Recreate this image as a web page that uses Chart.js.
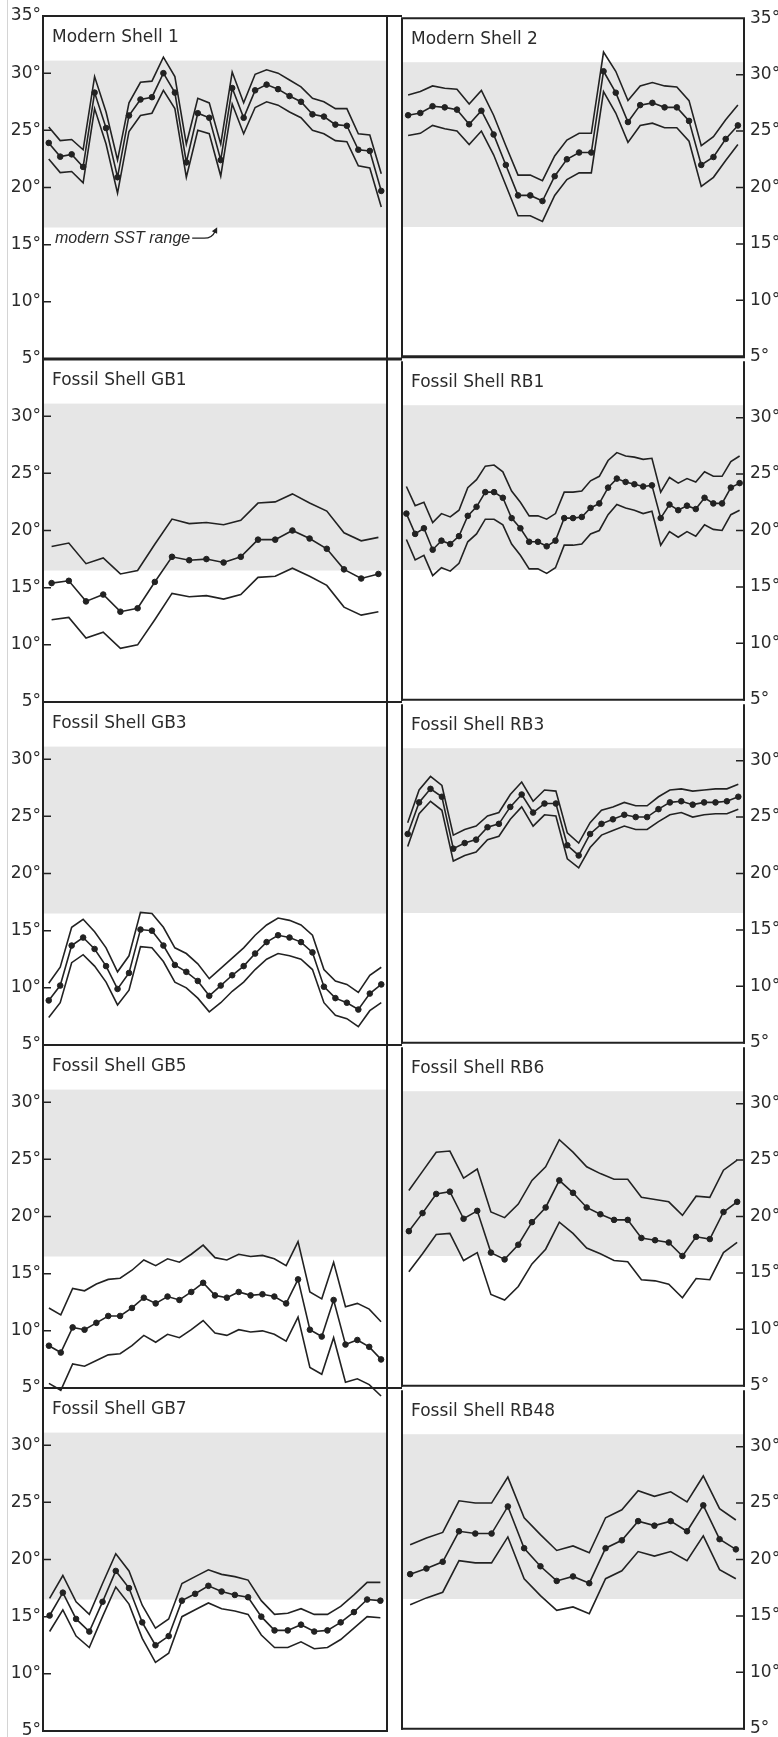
<!DOCTYPE html>
<html>
<head>
<meta charset="utf-8">
<script src="https://cdn.jsdelivr.net/npm/chart.js@4.4.1/dist/chart.umd.min.js"></script>
<style>
  html, body { margin: 0; padding: 0; background: #fff; overflow: hidden; }
  #fig { position: relative; width: 778px; height: 1737px; }
  #fig canvas { position: absolute; }
  #edge { position: absolute; left: 7px; top: 0; width: 1px; height: 1737px; background: #d4d4d4; }
</style>
</head>
<body>
<div id="fig"><div id="edge"></div></div>
<script>
// modern SST range (grey band), degrees
const sstRange = [16.5, 31.1];
const yTicks = [5, 10, 15, 20, 25, 30, 35];

// panel titles, reading order: left column then right column per row
const titles = [
  'Modern Shell 1', 'Modern Shell 2',
  'Fossil Shell GB1', 'Fossil Shell RB1',
  'Fossil Shell GB3', 'Fossil Shell RB3',
  'Fossil Shell GB5', 'Fossil Shell RB6',
  'Fossil Shell GB7', 'Fossil Shell RB48',
];

// each shell: mean (dotted line) and upper / lower bounds
const ms1Mean = [23.9,22.7,22.9,21.8,28.3,25.2,20.9,26.3,27.7,27.9,30.0,28.3,22.2,26.5,26.1,22.4,28.7,26.1,28.5,29.0,28.6,28.0,27.5,26.4,26.2,25.5,25.4,23.3,23.2,19.7];
const ms1Upper = [25.3,24.1,24.2,23.3,29.7,26.6,22.4,27.4,29.2,29.3,31.4,29.7,23.8,27.8,27.4,23.8,30.1,27.4,29.9,30.3,30.0,29.4,28.8,27.8,27.5,26.9,26.9,24.7,24.6,21.2];
const ms1Lower = [22.5,21.3,21.4,20.4,26.9,23.8,19.5,24.9,26.3,26.5,28.5,26.9,20.9,25.0,24.7,21.0,27.3,24.7,27.0,27.5,27.2,26.6,26.1,25.0,24.7,24.1,24.0,21.9,21.7,18.3];

const ms2Mean = [26.4,26.6,27.2,27.1,26.9,25.6,26.8,24.7,22.0,19.3,19.3,18.8,21.0,22.5,23.1,23.1,30.3,28.4,25.8,27.3,27.5,27.1,27.1,25.9,22.0,22.7,24.3,25.5];
const ms2Upper = [28.2,28.5,29.0,28.8,28.7,27.4,28.6,26.4,23.7,21.1,21.1,20.6,22.8,24.2,24.8,24.8,32.0,30.3,27.7,29.0,29.3,29.0,28.9,27.7,23.7,24.5,26.0,27.3];
const ms2Lower = [24.6,24.8,25.5,25.2,25.0,23.8,25.0,22.9,20.2,17.5,17.5,17.0,19.3,20.7,21.3,21.3,28.5,26.6,24.0,25.5,25.7,25.3,25.3,24.1,20.1,20.9,22.4,23.8];

const gb1Mean = [15.4,15.6,13.8,14.4,12.9,13.2,15.5,17.7,17.4,17.5,17.2,17.7,19.2,19.2,20.0,19.3,18.4,16.6,15.8,16.2];
const gb1Upper = [18.6,18.9,17.1,17.6,16.2,16.5,18.8,21.0,20.6,20.7,20.5,20.9,22.4,22.5,23.2,22.4,21.7,19.8,19.1,19.4];
const gb1Lower = [12.2,12.4,10.6,11.1,9.7,10.0,12.2,14.5,14.2,14.3,14.0,14.4,15.9,16.0,16.7,16.0,15.2,13.3,12.6,12.9];

const rb1Mean = [21.5,19.7,20.2,18.3,19.1,18.8,19.5,21.3,22.1,23.4,23.4,22.9,21.1,20.2,19.0,19.0,18.6,19.1,21.1,21.1,21.2,22.0,22.4,23.8,24.6,24.3,24.1,23.9,24.0,21.1,22.3,21.8,22.2,21.9,22.9,22.4,22.4,23.8,24.2];
const rb1Upper = [23.9,22.2,22.5,20.7,21.5,21.2,21.8,23.8,24.5,25.7,25.8,25.2,23.5,22.5,21.3,21.3,21.0,21.5,23.4,23.4,23.5,24.4,24.8,26.2,26.9,26.6,26.5,26.3,26.4,23.4,24.7,24.2,24.6,24.3,25.2,24.8,24.8,26.1,26.6];
const rb1Lower = [19.2,17.4,17.8,16.0,16.7,16.4,17.1,19.0,19.7,21.0,21.0,20.5,18.8,17.8,16.6,16.6,16.2,16.7,18.7,18.7,18.8,19.7,20.0,21.4,22.3,22.0,21.8,21.5,21.7,18.7,19.9,19.4,19.9,19.5,20.5,20.1,20.0,21.4,21.8];

const gb3Mean = [8.9,10.2,13.7,14.4,13.4,11.9,9.9,11.3,15.1,15.0,13.7,12.0,11.4,10.6,9.3,10.2,11.1,11.9,13.0,14.0,14.6,14.4,14.0,13.1,10.1,9.1,8.7,8.1,9.5,10.3];
const gb3Upper = [10.4,11.8,15.3,16.0,14.9,13.5,11.4,12.8,16.6,16.5,15.3,13.5,13.0,12.1,10.8,11.7,12.6,13.5,14.6,15.5,16.1,15.9,15.5,14.6,11.6,10.6,10.3,9.6,11.1,11.8];
const gb3Lower = [7.4,8.7,12.2,12.9,11.9,10.5,8.5,9.8,13.6,13.5,12.3,10.5,10.0,9.1,7.9,8.7,9.7,10.5,11.6,12.5,13.0,12.8,12.5,11.6,8.7,7.6,7.3,6.6,8.0,8.7];

const rb3Mean = [23.5,26.3,27.5,26.8,22.2,22.7,23.0,24.1,24.4,25.9,27.0,25.4,26.2,26.2,22.5,21.6,23.5,24.4,24.8,25.2,25.0,25.0,25.7,26.3,26.4,26.1,26.3,26.3,26.4,26.8];
const rb3Upper = [24.5,27.4,28.6,27.8,23.4,23.9,24.2,25.1,25.4,27.0,28.1,26.4,27.4,27.3,23.6,22.7,24.5,25.6,25.9,26.3,26.0,26.0,26.8,27.4,27.5,27.3,27.4,27.5,27.5,27.9];
const rb3Lower = [22.4,25.3,26.4,25.6,21.1,21.6,21.9,23.0,23.3,24.8,25.9,24.2,25.2,25.1,21.3,20.5,22.3,23.4,23.8,24.2,23.9,23.9,24.6,25.2,25.4,25.0,25.2,25.3,25.3,25.7];

const gb5Mean = [8.7,8.1,10.3,10.1,10.7,11.3,11.3,12.0,12.9,12.4,13.0,12.7,13.4,14.2,13.1,12.9,13.4,13.1,13.2,13.0,12.4,14.5,10.1,9.5,12.7,8.8,9.2,8.6,7.5];
const gb5Upper = [12.0,11.4,13.7,13.5,14.1,14.5,14.6,15.3,16.2,15.7,16.3,16.0,16.7,17.5,16.4,16.2,16.7,16.5,16.6,16.3,15.7,17.8,13.4,12.8,16.0,12.1,12.4,11.9,10.8];
const gb5Lower = [5.4,4.8,7.1,6.9,7.4,7.9,8.0,8.7,9.6,9.0,9.7,9.4,10.1,10.9,9.8,9.6,10.1,9.9,10.0,9.7,9.1,11.2,6.8,6.2,9.4,5.5,5.8,5.3,4.3];

const rb6Mean = [18.7,20.3,22.0,22.2,19.8,20.5,16.8,16.2,17.5,19.5,20.8,23.2,22.1,20.8,20.2,19.7,19.7,18.1,17.9,17.7,16.5,18.2,18.0,20.4,21.3];
const rb6Upper = [22.3,24.0,25.7,25.8,23.4,24.2,20.4,19.9,21.1,23.2,24.4,26.8,25.7,24.4,23.8,23.3,23.3,21.7,21.5,21.3,20.1,21.8,21.7,24.1,25.0];
const rb6Lower = [15.1,16.7,18.4,18.5,16.1,16.8,13.1,12.6,13.8,15.8,17.1,19.5,18.5,17.2,16.7,16.1,16.0,14.4,14.3,14.0,12.8,14.5,14.4,16.8,17.7];

const gb7Mean = [15.1,17.1,14.8,13.7,16.3,19.0,17.5,14.5,12.5,13.3,16.4,17.0,17.7,17.2,16.9,16.7,15.0,13.8,13.8,14.3,13.7,13.8,14.5,15.4,16.5,16.4];
const gb7Upper = [16.6,18.6,16.3,15.2,17.9,20.5,19.0,16.0,14.0,14.8,17.9,18.5,19.1,18.7,18.5,18.2,16.4,15.2,15.3,15.7,15.2,15.2,15.9,16.9,18.0,18.0];
const gb7Lower = [13.7,15.6,13.3,12.3,15.0,17.6,16.1,13.1,11.0,11.8,15.0,15.6,16.2,15.7,15.5,15.2,13.4,12.3,12.3,12.8,12.2,12.3,13.0,14.0,15.0,14.9];

const rb48Mean = [18.7,19.2,19.8,22.5,22.3,22.3,24.7,21.0,19.4,18.1,18.5,17.9,21.0,21.7,23.4,23.0,23.4,22.5,24.8,21.8,20.9];
const rb48Upper = [21.3,21.9,22.4,25.2,25.0,25.0,27.3,23.7,22.2,20.8,21.2,20.6,23.7,24.4,26.1,25.6,26.0,25.1,27.4,24.5,23.5];
const rb48Lower = [16.0,16.6,17.1,19.9,19.7,19.7,22.0,18.3,16.8,15.5,15.8,15.2,18.3,19.0,20.7,20.3,20.7,19.9,22.1,19.1,18.3];

const series = [
  [ms1Mean, ms1Upper, ms1Lower], [ms2Mean, ms2Upper, ms2Lower],
  [gb1Mean, gb1Upper, gb1Lower], [rb1Mean, rb1Upper, rb1Lower],
  [gb3Mean, gb3Upper, gb3Lower], [rb3Mean, rb3Upper, rb3Lower],
  [gb5Mean, gb5Upper, gb5Lower], [rb6Mean, rb6Upper, rb6Lower],
  [gb7Mean, gb7Upper, gb7Lower], [rb48Mean, rb48Upper, rb48Lower],
];

// page geometry
const ROW_TOP = 16, ROW_H = 343, PAD = 14, ROWS = 5;
const cols = [
  { left: 0, width: 402, axisW: 43, padL: 0, padR: 15 },   // plot 43..387
  { left: 395, width: 383, axisW: 34, padL: 7, padR: 0 },  // plot 402..744
];
const INK = '#222';
const TEXT = '#2b2b2b';
const BAND = '#e6e6e6';

const panelDecor = {
  id: 'panelDecor',
  beforeDatasetsDraw(chart, args, opts) {
    const { ctx, chartArea: a, scales: { y } } = chart;
    ctx.save();
    const t = y.getPixelForValue(sstRange[1]);
    const b = y.getPixelForValue(sstRange[0]);
    ctx.fillStyle = BAND;
    ctx.fillRect(a.left, t, a.right - a.left, b - t);
    ctx.fillStyle = TEXT;
    ctx.font = '17px "DejaVu Sans"';
    ctx.textBaseline = 'alphabetic';
    ctx.fillText(opts.title, a.left + 9, a.top + 26);
    if (opts.note) {
      // "modern SST range" label with little arrow
      const yb = y.getPixelForValue(15) - 2;
      const x = a.left + 12;
      ctx.font = 'italic 16px "Liberation Sans"';
      const txt = 'modern SST range';
      ctx.fillText(txt, x, yb);
      const x0 = x + ctx.measureText(txt).width + 2;
      const yl = yb - 4.5;
      ctx.strokeStyle = INK;
      ctx.lineWidth = 1.3;
      ctx.beginPath();
      ctx.moveTo(x0, yl);
      ctx.lineTo(x0 + 12, yl);
      ctx.quadraticCurveTo(x0 + 20, yl, x0 + 23, yl - 7);
      ctx.stroke();
      const tx = x0 + 25, ty = yl - 11;
      const dx = 0.45, dy = -0.89;
      ctx.fillStyle = INK;
      ctx.beginPath();
      ctx.moveTo(tx, ty);
      ctx.lineTo(tx - dx * 6 - dy * 3, ty - dy * 6 + dx * 3);
      ctx.lineTo(tx - dx * 6 + dy * 3, ty - dy * 6 - dx * 3);
      ctx.closePath();
      ctx.fill();
    }
    ctx.restore();
  },
  afterDatasetsDraw(chart, args, opts) {
    const { ctx, chartArea: a, scales: { y } } = chart;
    ctx.save();
    ctx.strokeStyle = INK;
    // vertical frame
    ctx.lineWidth = 2;
    ctx.beginPath();
    ctx.moveTo(a.left, a.top);
    ctx.lineTo(a.left, a.bottom + 1);
    ctx.moveTo(a.right, a.top);
    ctx.lineTo(a.right, a.bottom + 1);
    ctx.stroke();
    // horizontal lines; inner row lines run across the column gap
    const last = opts.row === ROWS - 1;
    const xEnd = (opts.col === 0 && !last) ? chart.width : a.right + 1;
    const hline = (yy, w) => {
      ctx.lineWidth = w;
      ctx.beginPath();
      ctx.moveTo(a.left - 1, yy);
      ctx.lineTo(xEnd, yy);
      ctx.stroke();
    };
    if (opts.row === 0) hline(a.top, 2);
    hline(a.bottom, opts.row === 0 ? 3 : 2);
    // inward tick marks
    ctx.lineWidth = 1.5;
    ctx.beginPath();
    yTicks.slice(1, -1).forEach(v => {
      const py = y.getPixelForValue(v);
      if (opts.col === 0) { ctx.moveTo(a.left, py); ctx.lineTo(a.left + 8, py); }
      else { ctx.moveTo(a.right - 8, py); ctx.lineTo(a.right, py); }
    });
    ctx.stroke();
    ctx.restore();
  },
};

const fig = document.getElementById('fig');

titles.forEach((title, i) => {
  const row = Math.floor(i / 2), col = i % 2;
  const c = cols[col];
  const [mean, upper, lower] = series[i];
  const canvas = document.createElement('canvas');
  const h = ROW_H + 2 * PAD;
  canvas.width = c.width;
  canvas.height = h;
  canvas.style.left = c.left + 'px';
  canvas.style.top = (ROW_TOP + row * ROW_H - PAD) + 'px';
  canvas.style.width = c.width + 'px';
  canvas.style.height = h + 'px';
  // GB5 spills below its frame, keep it on top
  canvas.style.zIndex = title === 'Fossil Shell GB5' ? 5 : 1;
  fig.appendChild(canvas);

  const bound = (data) => ({
    data: data,
    borderColor: INK,
    borderWidth: 1.6,
    pointRadius: 0,
    tension: 0,
    clip: false,
  });

  new Chart(canvas, {
    type: 'line',
    data: {
      labels: mean.map((_, k) => k + 1),
      datasets: [
        bound(upper),
        bound(lower),
        {
          data: mean,
          borderColor: INK,
          borderWidth: 1.6,
          pointRadius: 2.8,
          pointBackgroundColor: INK,
          pointBorderColor: INK,
          pointBorderWidth: 1,
          tension: 0,
          clip: false,
        },
      ],
    },
    options: {
      responsive: false,
      animation: false,
      events: [],
      layout: { padding: { top: PAD, bottom: PAD, left: c.padL, right: c.padR } },
      plugins: {
        legend: { display: false },
        tooltip: { enabled: false },
        panelDecor: { title: title, note: i === 0, row: row, col: col },
      },
      scales: {
        x: { type: 'category', display: false, offset: true },
        y: {
          position: col === 0 ? 'left' : 'right',
          min: 5,
          max: 35,
          afterFit: (s) => { s.width = c.axisW; },
          grid: { display: false, drawTicks: false },
          border: { display: false },
          ticks: {
            stepSize: 5,
            padding: col === 0 ? 2 : 6,
            color: TEXT,
            font: { family: 'DejaVu Sans', size: 17 },
            callback: (v) => (v === 35 && row > 0) ? '' : v + '°',
          },
        },
      },
    },
    plugins: [panelDecor],
  });
});
</script>
</body>
</html>
